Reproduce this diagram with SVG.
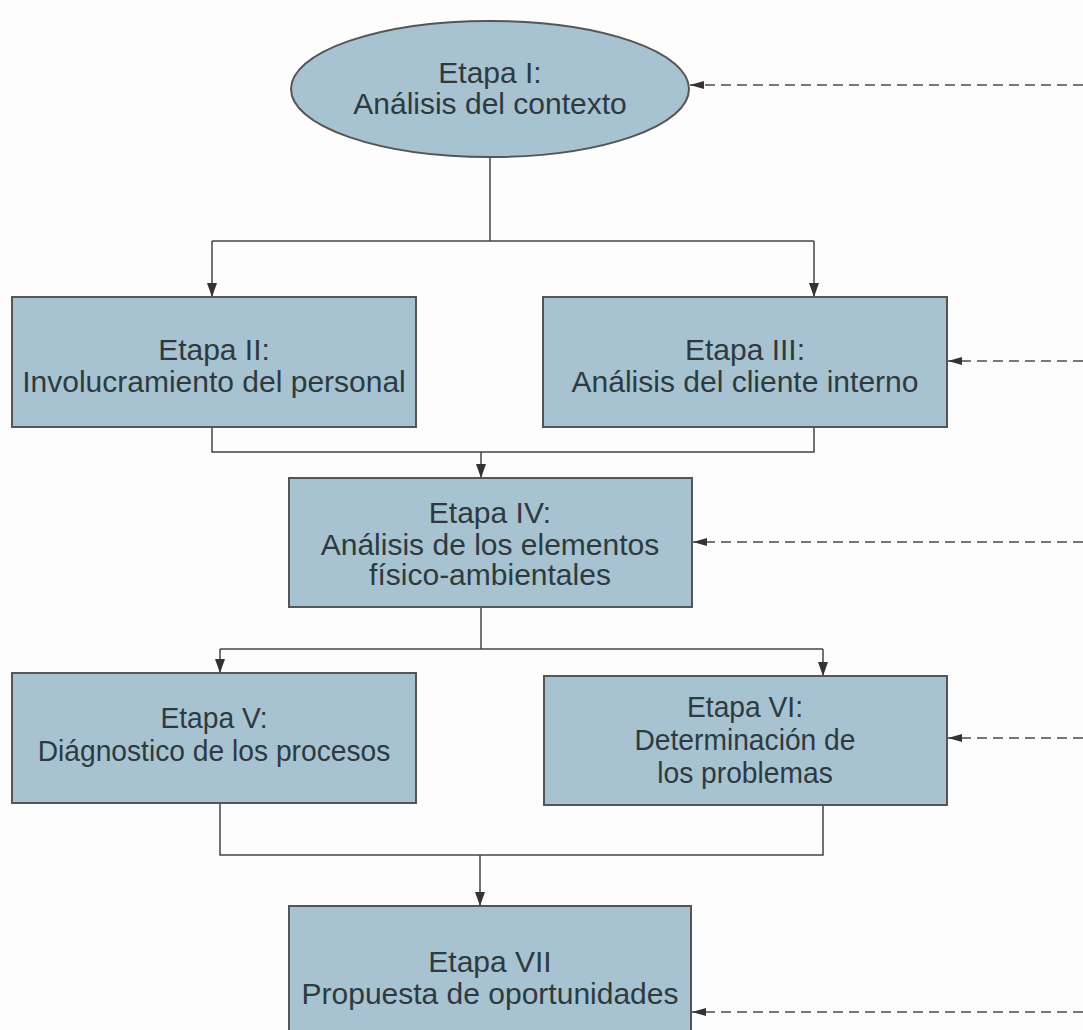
<svg xmlns="http://www.w3.org/2000/svg" width="1083" height="1030" viewBox="0 0 1083 1030">
  <defs>
    <marker id="arrBig" viewBox="0 0 14 10" refX="14" refY="5" markerWidth="14" markerHeight="10" markerUnits="userSpaceOnUse" orient="auto">
      <path d="M0,0 L14,5 L0,10 z" fill="#333"/>
    </marker>
    <marker id="arrD" viewBox="0 0 14 8" refX="14" refY="4" markerWidth="14" markerHeight="8" markerUnits="userSpaceOnUse" orient="auto">
      <path d="M0,0 L14,4 L0,8 z" fill="#333"/>
    </marker>
  </defs>
  <style>
    .node { fill: #a7c3d1; stroke: #555; stroke-width: 2; }
    .lbl { font-family: "Liberation Sans", Arial, sans-serif; font-size: 30px; fill: #2e3a40; text-anchor: middle; }
    .conn { fill: none; stroke: #444; stroke-width: 1.5; }
    .dash { fill: none; stroke: #777; stroke-width: 2; stroke-dasharray: 10 6; }
  </style>
  <rect x="0" y="0" width="1083" height="1030" fill="#fdfdfd"/>

  <g id="connectors">
    <path class="conn" d="M490,156 V241"/>
    <path class="conn" d="M212,241 H814"/>
    <path class="conn" d="M212,241 V297" marker-end="url(#arrBig)"/>
    <path class="conn" d="M814,241 V297" marker-end="url(#arrBig)"/>
    <path class="conn" d="M212,427 V452 H814 V427"/>
    <path class="conn" d="M481,452 V478" marker-end="url(#arrBig)"/>
    <path class="conn" d="M481,607 V649"/>
    <path class="conn" d="M220,649 H823"/>
    <path class="conn" d="M220,649 V673" marker-end="url(#arrBig)"/>
    <path class="conn" d="M823,649 V676" marker-end="url(#arrBig)"/>
    <path class="conn" d="M220,803 V855 H823 V805"/>
    <path class="conn" d="M480,855 V906" marker-end="url(#arrBig)"/>
    <path class="dash" d="M1083,85 H690" marker-end="url(#arrD)"/>
    <path class="dash" d="M1083,361 H948" marker-end="url(#arrD)"/>
    <path class="dash" d="M1083,542 H693" marker-end="url(#arrD)"/>
    <path class="dash" d="M1083,738 H948" marker-end="url(#arrD)"/>
    <path class="dash" d="M1083,1012 H692" marker-end="url(#arrD)"/>
  </g>

  <g id="etapa1">
    <ellipse class="node" cx="490" cy="89" rx="199" ry="68"/>
    <text class="lbl" x="490" y="83">Etapa I:</text>
    <text class="lbl" x="490" y="114">Análisis del contexto</text>
  </g>
  <g id="etapa2">
    <rect class="node" x="12" y="297" width="404" height="130"/>
    <text class="lbl" x="214" y="360">Etapa II:</text>
    <text class="lbl" x="214" y="392">Involucramiento del personal</text>
  </g>
  <g id="etapa3">
    <rect class="node" x="543" y="297" width="404" height="130"/>
    <text class="lbl" x="745" y="360">Etapa III:</text>
    <text class="lbl" x="745" y="392">Análisis del cliente interno</text>
  </g>
  <g id="etapa4">
    <rect class="node" x="289" y="478" width="403" height="129"/>
    <text class="lbl" x="490" y="523">Etapa IV:</text>
    <text class="lbl" x="490" y="555">Análisis de los elementos</text>
    <text class="lbl" x="490" y="585">físico-ambientales</text>
  </g>
  <g id="etapa5">
    <rect class="node" x="12" y="673" width="404" height="130"/>
    <g transform="translate(214,0) scale(0.94,1) translate(-214,0)">
      <text class="lbl" x="214" y="728">Etapa V:</text>
      <text class="lbl" x="214" y="761">Diágnostico de los procesos</text>
    </g>
  </g>
  <g id="etapa6">
    <rect class="node" x="544" y="676" width="403" height="129"/>
    <g transform="translate(745,0) scale(0.94,1) translate(-745,0)">
      <text class="lbl" x="745" y="717">Etapa VI:</text>
      <text class="lbl" x="745" y="750">Determinación de</text>
      <text class="lbl" x="745" y="783">los problemas</text>
    </g>
  </g>
  <g id="etapa7">
    <rect class="node" x="289" y="906" width="402" height="130"/>
    <text class="lbl" x="490" y="972">Etapa VII</text>
    <text class="lbl" x="490" y="1004">Propuesta de oportunidades</text>
  </g>
</svg>
